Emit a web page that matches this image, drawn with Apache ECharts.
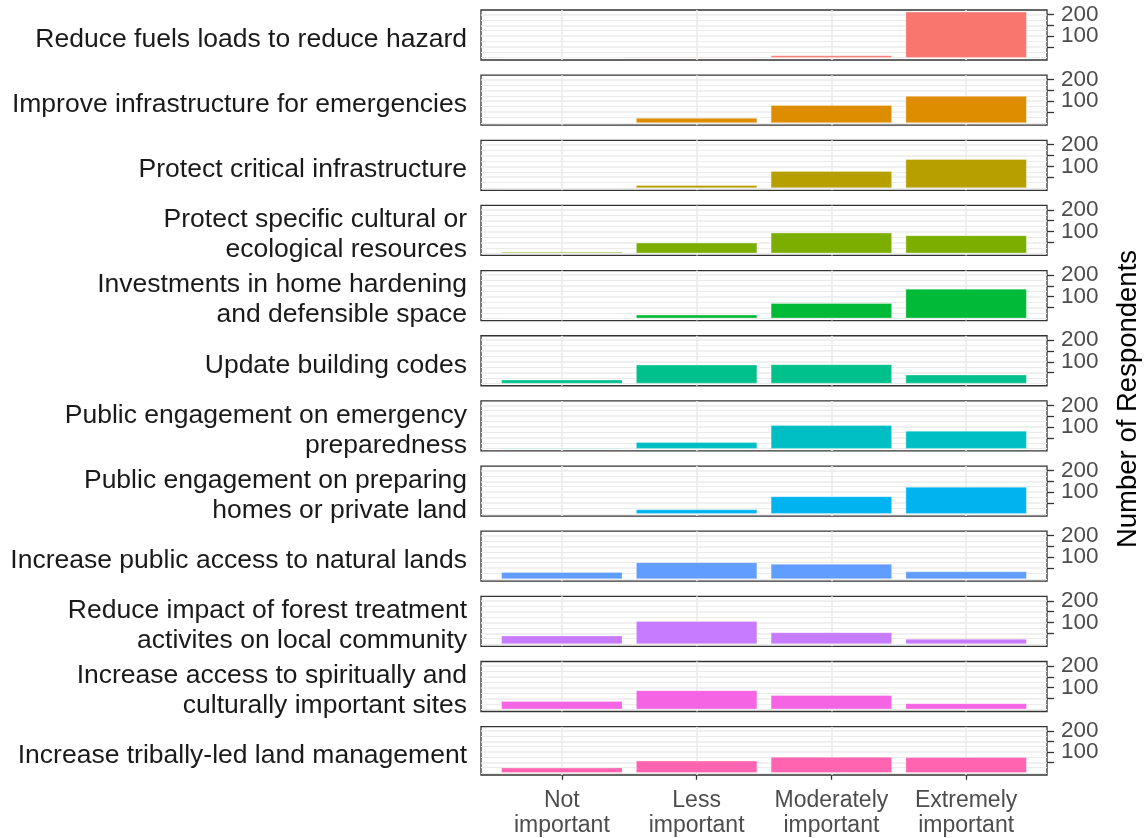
<!DOCTYPE html>
<html>
<head>
<meta charset="utf-8">
<script src="https://cdn.jsdelivr.net/npm/echarts@6/dist/echarts.min.js"></script>
<style>html,body{margin:0;padding:0;background:#fff;}#chart{width:1148px;height:838px;}</style>
</head>
<body>
<div id="chart"></div>
<script>
const categories = ['Not\nimportant', 'Less\nimportant', 'Moderately\nimportant', 'Extremely\nimportant'];
const facets = [
  'Reduce fuels loads to reduce hazard',
  'Improve infrastructure for emergencies',
  'Protect critical infrastructure',
  'Protect specific cultural or\necological resources',
  'Investments in home hardening\nand defensible space',
  'Update building codes',
  'Public engagement on emergency\npreparedness',
  'Public engagement on preparing\nhomes or private land',
  'Increase public access to natural lands',
  'Reduce impact of forest treatment\nactivites on local community',
  'Increase access to spiritually and\nculturally important sites',
  'Increase tribally-led land management'
];
const notImportant        = [1, 1, 1, 5, 3, 17, 3, 3, 31, 39, 37, 24];
const lessImportant       = [3, 22, 13, 48, 16, 86, 29, 20, 76, 106, 87, 57];
const moderatelyImportant = [10, 82, 78, 94, 70, 88, 108, 80, 69, 54, 65, 75];
const extremelyImportant  = [212, 124, 133, 82, 136, 40, 82, 124, 34, 24, 27, 74];
const colors = ['#F8766D', '#DE8C00', '#B79F00', '#7CAE00', '#00BA38', '#00C08B',
                '#00BFC4', '#00B4F0', '#619CFF', '#C77CFF', '#F564E3', '#FF64B0'];
const yTicks = [50, 100, 150, 200];
const yTickLabels = [100, 200];
const yGridMajor = [50, 100, 150, 200];
const yGridMinor = [0, 25, 75, 125, 175];
const xPositions = [1, 2, 3, 4];

const valueArrays = [notImportant, lessImportant, moderatelyImportant, extremelyImportant];

const PANEL_LEFT = 481, PANEL_W = 566, PANEL_TOP = 10, PANEL_STEP = 65.15, PANEL_H = 50;
const grids = [], xAxes = [], yAxes = [], series = [], graphics = [];
const n = facets.length;
const labelStyle = {fontFamily: 'Liberation Sans', fontSize: 22.5, color: '#4D4D4D', margin: 14,
  hideOverlap: false, padding: [4, 0, 0, 0]};
for (let i = 0; i < n; i++) {
  const top = PANEL_TOP + PANEL_STEP * i;
  const last = i === n - 1;
  grids.push({left: PANEL_LEFT, width: PANEL_W, top: top, height: PANEL_H,
    show: true, borderColor: '#333333', borderWidth: 1.3, backgroundColor: '#ffffff', containLabel: false});
  xAxes.push({type: 'value', gridIndex: i, min: 0.4, max: 4.6,
    axisLine: {show: false}, splitLine: {show: false},
    axisTick: {show: last, customValues: xPositions, length: 7, lineStyle: {color: '#333333', width: 1.3}},
    axisLabel: {show: last, customValues: xPositions, margin: 13, hideOverlap: false,
      formatter: v => categories[Math.round(v) - 1] || '',
      fontFamily: 'Liberation Sans', fontSize: 23, color: '#4D4D4D', lineHeight: 25}
  });
  // main right axis: ticks + first label
  yAxes.push({type: 'value', gridIndex: i, position: 'right', min: -10.5, max: 220.5,
    axisLine: {show: false}, splitLine: {show: false},
    axisTick: {show: true, customValues: yTicks, length: 7, lineStyle: {color: '#333333', width: 1.3}},
    axisLabel: Object.assign({show: true, customValues: [yTickLabels[0]]}, labelStyle)
  });
  // second right axis: second label only
  yAxes.push({type: 'value', gridIndex: i, position: 'right', offset: 0, min: -10.5, max: 220.5,
    axisLine: {show: false}, splitLine: {show: false},
    axisTick: {show: false, customValues: [yTickLabels[1]]},
    axisLabel: Object.assign({show: true, customValues: [yTickLabels[1]]}, labelStyle)
  });
  const gridLines = [];
  yGridMinor.forEach(v => gridLines.push({yAxis: v, lineStyle: {color: '#EBEBEB', width: 1, type: 'solid'}}));
  yGridMajor.forEach(v => gridLines.push({yAxis: v, lineStyle: {color: '#EBEBEB', width: 1.6, type: 'solid'}}));
  xPositions.forEach(v => gridLines.push({xAxis: v, lineStyle: {color: '#EBEBEB', width: 1.6, type: 'solid'}}));
  series.push({type: 'line', xAxisIndex: i, yAxisIndex: 2 * i, data: [], z: 1, silent: true,
    markLine: {silent: true, z: 1, symbol: 'none', label: {show: false}, animation: false, data: gridLines}});
  series.push({type: 'bar', xAxisIndex: i, yAxisIndex: 2 * i, z: 3, barWidth: 121,
    itemStyle: {color: colors[i], borderColor: 'rgba(255,255,255,0.6)', borderWidth: 0.5},
    data: valueArrays.map((arr, j) => [xPositions[j], arr[i]])});
  graphics.push({type: 'text', x: 467, y: top + PANEL_H / 2 + 4.5, silent: true,
    style: {text: facets[i], textAlign: 'right', textVerticalAlign: 'middle',
      font: '26.5px "Liberation Sans"', fill: '#1A1A1A', lineHeight: 30}});
}
graphics.push({type: 'text', x: 1128, y: 399, rotation: Math.PI / 2, silent: true,
  style: {text: 'Number of Respondents', textAlign: 'center', textVerticalAlign: 'middle',
    font: '27.5px "Liberation Sans"', fill: '#000000'}});

const chart = echarts.init(document.getElementById('chart'), null, {renderer: 'canvas'});
chart.setOption({
  animation: false,
  backgroundColor: '#ffffff',
  grid: grids, xAxis: xAxes, yAxis: yAxes, series: series, graphic: graphics
});
</script>
</body>
</html>
